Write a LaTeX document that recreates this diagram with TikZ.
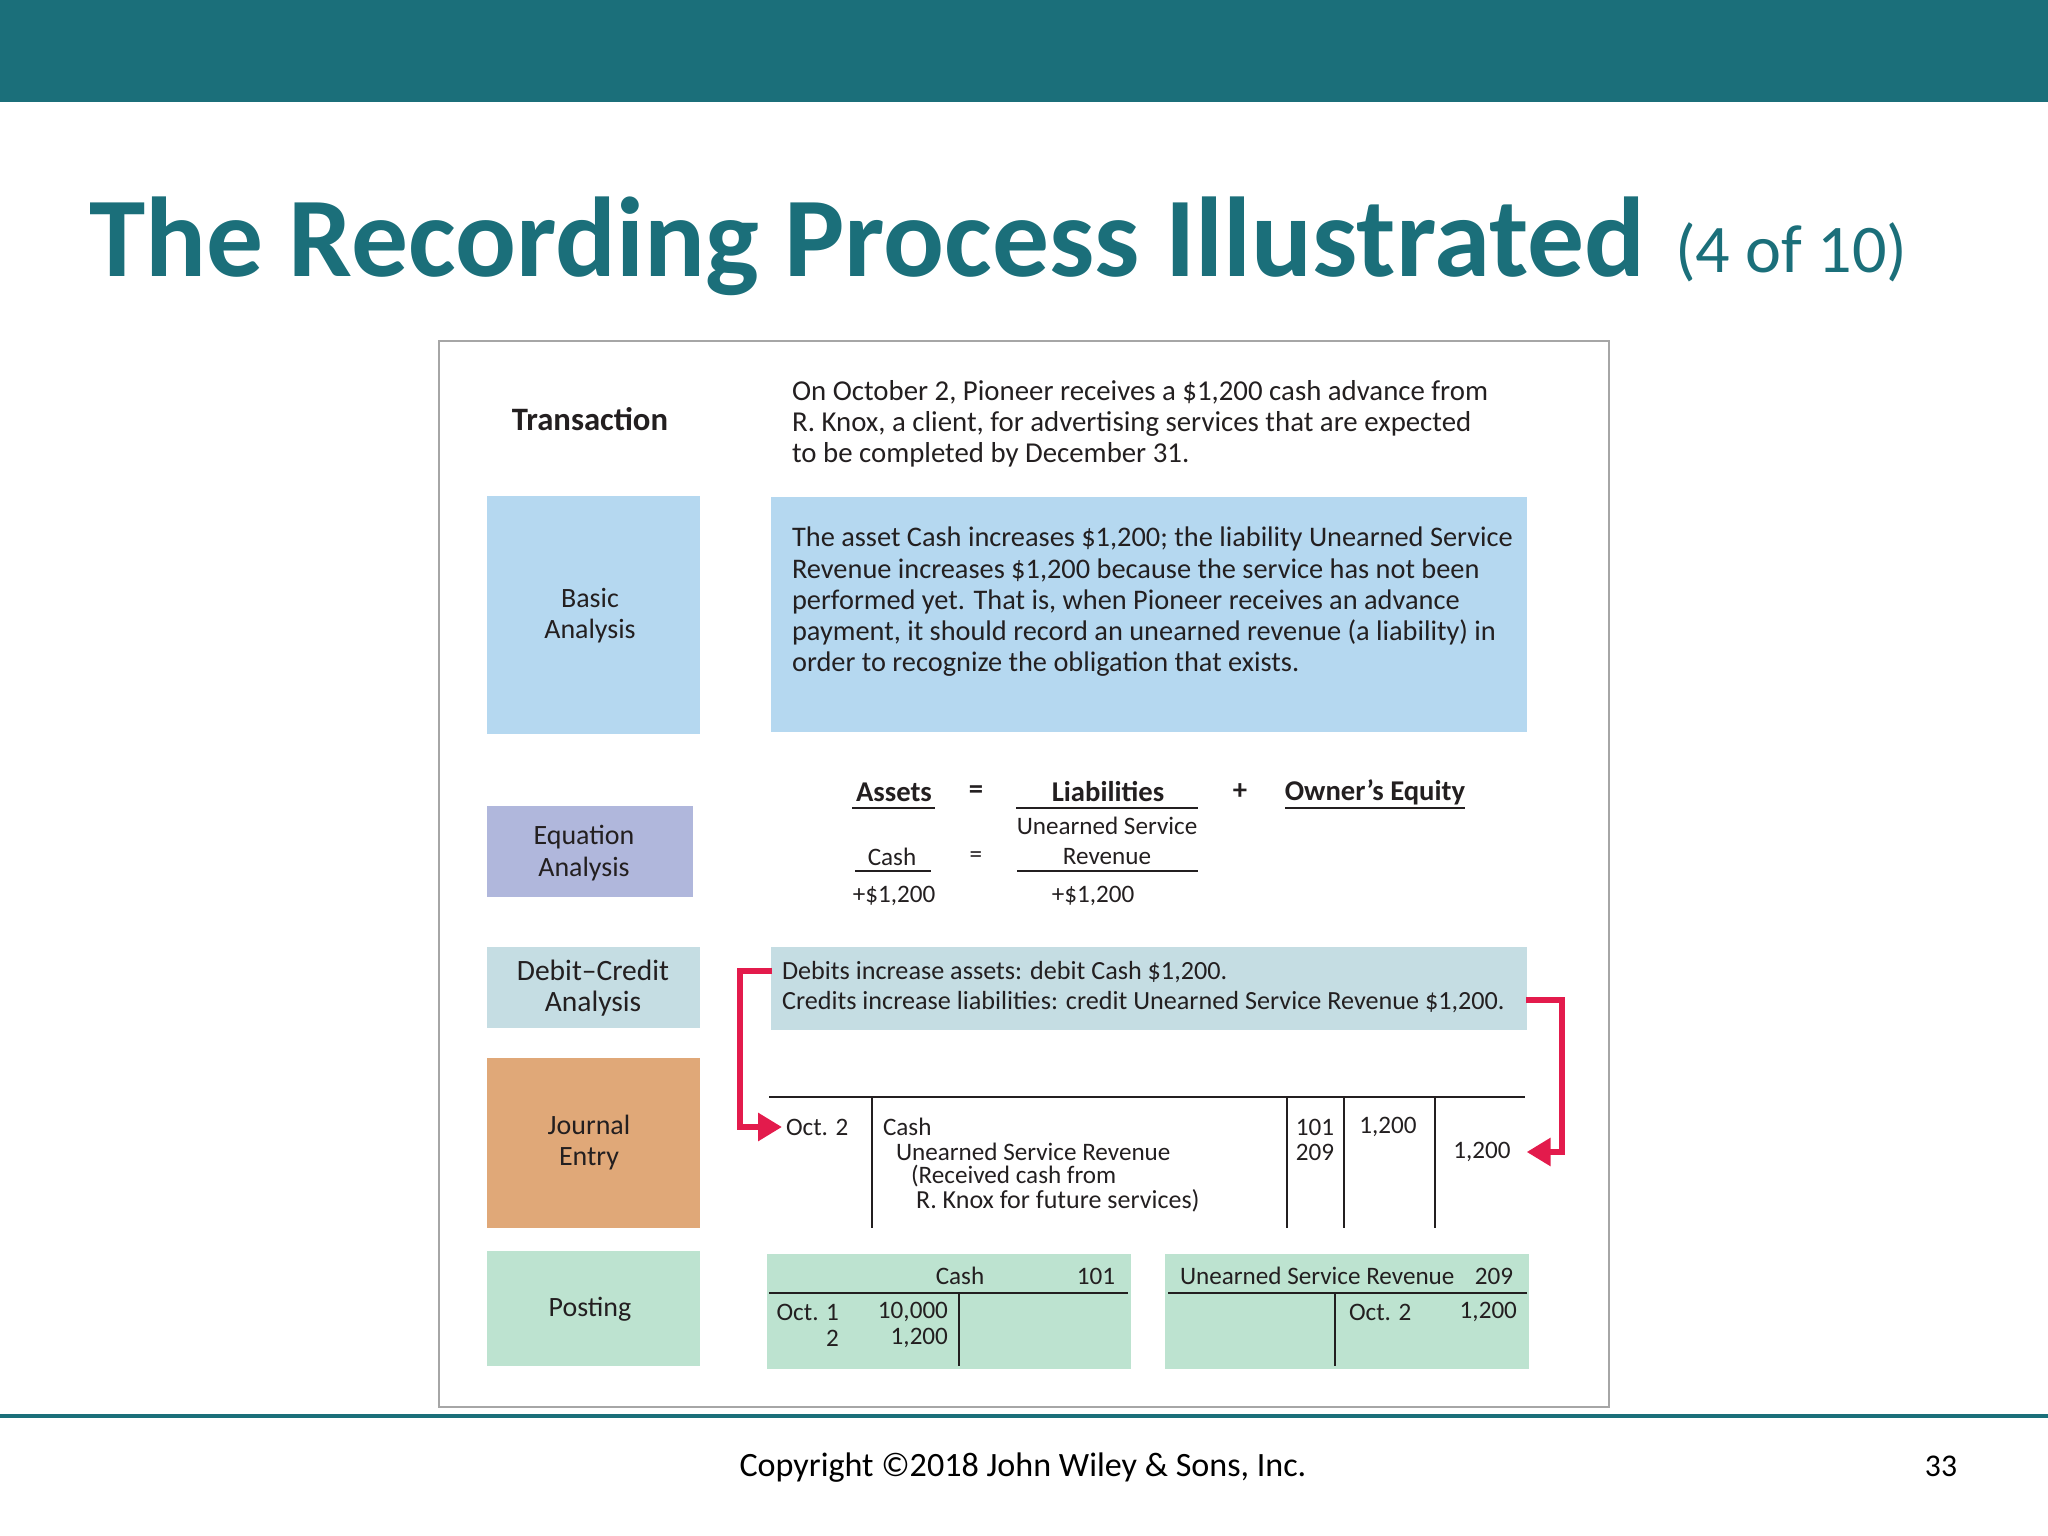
\documentclass[tikz,border=0pt]{standalone}
\usepackage{fontspec}
\setmainfont{Carlito}
\usepackage{xcolor}
\usetikzlibrary{arrows.meta,positioning}
\definecolor{teal1}{HTML}{1B6F7A}
\definecolor{frame1}{HTML}{A6A6A6}
\definecolor{blue1}{HTML}{B5D8F0}
\definecolor{violet1}{HTML}{B0B7DC}
\definecolor{slate1}{HTML}{C5DDE3}
\definecolor{orange1}{HTML}{E0A878}
\definecolor{green1}{HTML}{BDE3D0}
\definecolor{red1}{HTML}{E31B4C}
\definecolor{ink1}{HTML}{231F20}

\begin{document}
\begin{tikzpicture}[y=-1cm,>={Stealth[length=0.24cm,width=0.27cm,inset=0pt]},semithick]
  \tikzstyle{panel}=[inner sep=0pt,minimum width=2.13cm]
  \tikzstyle{txt}=[inner sep=0pt,text=ink1,font=\fontsize{8.1}{8.9}\selectfont]
  \tikzstyle{small}=[txt,font=\fontsize{7.15}{8}\selectfont]
  \tikzstyle{para}=[txt,anchor=west,align=left]
  \tikzstyle{small para}=[small,anchor=west,align=left]
  \tikzstyle{lab}=[txt,align=center,font=\fontsize{7.95}{8.9}\selectfont]
  \tikzstyle{boldlab}=[txt,font=\fontsize{8.15}{8.9}\selectfont\bfseries]
  \tikzstyle{rule}=[ink1,line width=0.5pt]
  \tikzstyle{heavy rule}=[ink1,line width=0.85pt]
  \tikzstyle{redline}=[->,red1,line width=1.9pt]

  \useasboundingbox (0,0) rectangle (20.48,15.36);
  \fill[teal1] (0,0) rectangle (20.48,1.02);
  \draw[frame1,line width=0.8pt] (4.39,3.41) rectangle (16.09,14.07);
  \draw[teal1,line width=0.9pt] (0,14.16) -- (20.48,14.16);

  % title and footer
  \node[anchor=base west,inner sep=0pt,text=teal1,font=\fontsize{32.3}{34}\selectfont\bfseries] (title) at (0.88,2.77) {The Recording Process Illustrated};
  \node[anchor=base west,inner sep=0pt,text=teal1,font=\fontsize{19.4}{21}\selectfont] (part) at (16.74,2.73) {(4 of 10)};
  \node[inner sep=0pt,font=\fontsize{9.7}{11}\selectfont] (copy) at (10.23,14.68) {Copyright ©2018 John Wiley \& Sons, Inc.};
  \node[inner sep=0pt,font=\fontsize{9}{10}\selectfont] (page) at (19.41,14.66) {33};

  % coloured boxes
  \node[panel,fill=blue1,minimum height=2.38cm] (basic) at (5.93,6.15) {};
  \node[panel,fill=blue1,minimum width=7.56cm,minimum height=2.35cm] (basictext) at (11.49,6.15) {};
  \node[panel,fill=violet1,minimum width=2.06cm,minimum height=0.91cm] (equation) at (5.90,8.515) {};
  \node[panel,fill=slate1,minimum height=0.81cm] (dc) at (5.93,9.875) {};
  \node[panel,fill=slate1,minimum width=7.56cm,minimum height=0.83cm] (dctext) at (11.49,9.885) {};
  \node[panel,fill=orange1,minimum height=1.70cm] (journal) at (5.93,11.43) {};
  \node[panel,fill=green1,minimum height=1.15cm] (posting) at (5.93,13.085) {};
  \node[panel,fill=green1,minimum width=3.64cm,minimum height=1.15cm] (cashT) at (9.49,13.115) {};
  \node[panel,fill=green1,minimum width=3.64cm,minimum height=1.15cm] (usrT) at (13.47,13.115) {};

  % left column
  \node[boldlab,font=\fontsize{9.3}{10}\selectfont\bfseries] (transaction) at (5.90,4.19) {Transaction};
  \node[lab,xshift=-0.03cm,yshift=-0.006cm] (basiclab) at (basic.center) {Basic\\Analysis};
  \node[lab,xshift=-0.06cm,yshift=-0.016cm] (equationlab) at (equation.center) {Equation\\Analysis};
  \node[lab,font=\fontsize{8.4}{8.9}\selectfont,yshift=-0.007cm] (dclab) at (dc.center) {Debit–Credit\\Analysis};
  \node[lab,xshift=-0.04cm,yshift=0.004cm] (journallab) at (journal.center) {Journal\\Entry};
  \node[lab,xshift=-0.03cm,yshift=-0.012cm] (postinglab) at (posting.center) {Posting};

  % paragraphs
  \node[para,font=\fontsize{8.2}{8.9}\selectfont] (trtext) at (7.91,4.24) {On October 2, Pioneer receives a \$1,200 cash advance from\\R. Knox, a client, for advertising services that are expected\\to be completed by December 31.};
  \node[para,font=\fontsize{8.07}{8.9}\selectfont] (batext) at (7.91,6.02) {The asset Cash increases \$1,200; the liability Unearned Service\\Revenue increases \$1,200 because the service has not been\\performed yet. That is, when Pioneer receives an advance\\payment, it should record an unearned revenue (a liability) in\\order to recognize the obligation that exists.};
  \node[para,font=\fontsize{7.45}{8.9}\selectfont] (dcdebit) at (7.81,9.72) {Debits increase assets: debit Cash \$1,200.};
  \node[para,font=\fontsize{7.45}{8.9}\selectfont] (dccredit) at (7.81,10.02) {Credits increase liabilities: credit Unearned Service Revenue \$1,200.};

  % equation
  \node[boldlab] (assets) at (8.94,7.92) {Assets};
  \node[boldlab] (eqa) at (9.76,7.92) {=};
  \node[boldlab] (liab) at (11.08,7.92) {Liabilities};
  \node[boldlab] (plus) at (12.40,7.92) {+};
  \node[boldlab] (owner) at (13.75,7.92) {Owner's Equity};
  \node[small] (usr1) at (11.07,8.26) {Unearned Service};
  \node[small] (cash) at (8.92,8.57) {Cash};
  \node[small] (eqb) at (9.76,8.57) {=};
  \node[small] (usr2) at (11.07,8.57) {Revenue};
  \node[small] (plusa) at (8.94,8.96) {+\$1,200};
  \node[small] (plusb) at (10.93,8.96) {+\$1,200};
  \draw[heavy rule] (8.52,8.08) -- (9.35,8.08);
  \draw[heavy rule] (10.16,8.08) -- (11.98,8.08);
  \draw[heavy rule] (12.85,8.08) -- (14.65,8.08);
  \draw[rule] (8.55,8.71) -- (9.31,8.71);
  \draw[rule] (10.17,8.71) -- (11.98,8.71);

  % journal entry
  \draw[rule] (7.69,10.97) -- (15.25,10.97);
  \foreach \x in {8.72,12.87,13.44,14.35}
    \draw[rule] (\x,10.97) -- (\x,12.28);
  \node[small para] (jdate) at (7.85,11.27) {Oct. 2};
  \node[small para] (jcash) at (8.82,11.27) {Cash};
  \node[small para] (jusr) at (8.95,11.52) {Unearned Service Revenue};
  \node[small para] (jrec) at (9.10,11.76) {(Received cash from};
  \node[small para,font=\fontsize{7.4}{8}\selectfont] (jknox) at (9.15,12.01) {R. Knox for future services)};
  \node[small] (ref1) at (13.15,11.27) {101};
  \node[small] (ref2) at (13.15,11.52) {209};
  \node[small] (debit) at (13.88,11.27) {1,200};
  \node[small] (credit) at (14.82,11.52) {1,200};

  % posting
  \node[small] (cashname) at (9.60,12.76) {Cash};
  \node[small] (cashno) at (10.96,12.76) {101};
  \draw[heavy rule] (7.69,12.93) -- (11.28,12.93);
  \draw[rule] (9.59,12.93) -- (9.59,13.66);
  \node[small,anchor=east] (c1) at (8.40,13.12) {Oct. 1};
  \node[small,anchor=east] (c2) at (8.40,13.38) {2};
  \node[small,anchor=east] (c3) at (9.49,13.12) {10,000};
  \node[small,anchor=east] (c4) at (9.49,13.38) {1,200};
  \node[small para] (usrname) at (11.79,12.76) {Unearned Service Revenue};
  \node[small] (usrno) at (14.94,12.76) {209};
  \draw[heavy rule] (11.68,12.93) -- (15.27,12.93);
  \draw[rule] (13.35,12.93) -- (13.35,13.66);
  \node[small para] (u1) at (13.48,13.12) {Oct. 2};
  \node[small,anchor=east] (u2) at (15.18,13.12) {1,200};

  % red connectors
  \coordinate (lstart) at (7.72,9.71);
  \coordinate (rstart) at (15.26,10.00);
  \draw[redline] (lstart) -- (7.40,9.71) |- ([xshift=-0.03cm]jdate.west);
  \draw[redline] (rstart) -- (15.62,10.00) |- ([xshift=0.15cm]credit.east);
\end{tikzpicture}
\end{document}
